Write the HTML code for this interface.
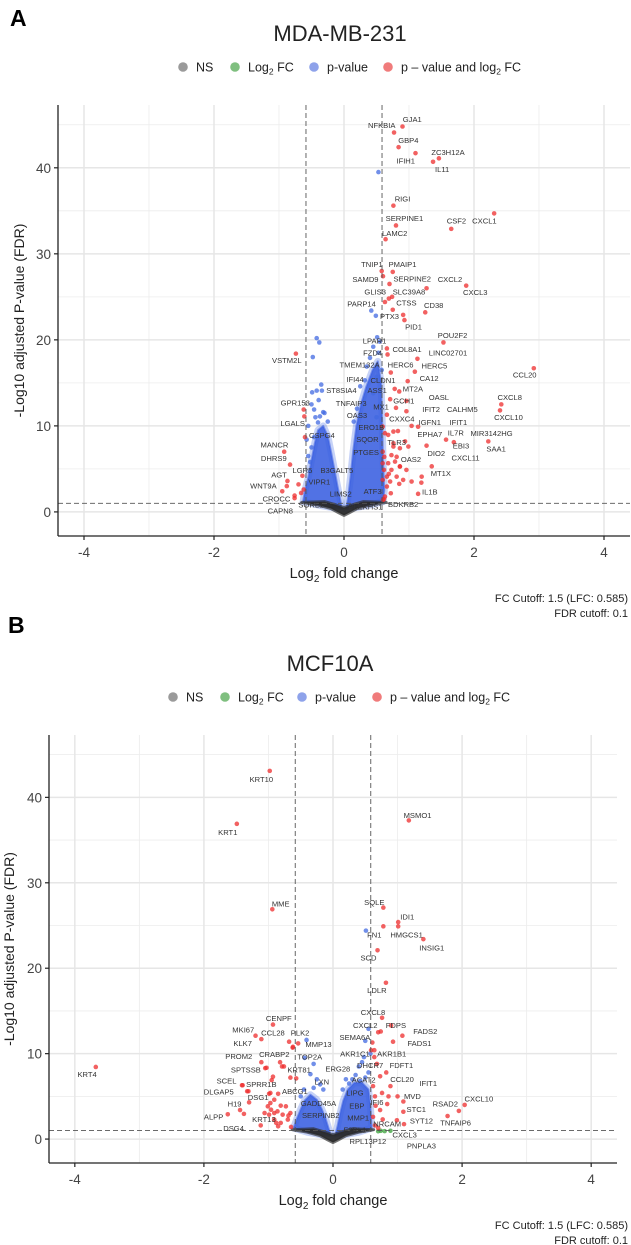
<!DOCTYPE html>
<html><head><meta charset="utf-8"><title>Volcano plots</title>
<style>
html,body{margin:0;padding:0;background:#fff;}
svg{display:block;font-family:"Liberation Sans",Arial,sans-serif;}
</style></head>
<body>
<svg id="fig" width="631" height="1245" viewBox="0 0 631 1245" xmlns="http://www.w3.org/2000/svg"></svg>
<script>
// ---------- Panel A data (MDA-MB-231) ----------
const aRedX=[0.90,0.77,0.84,1.10,1.46,1.37,0.76,2.31,0.80,1.65,0.64,0.58,0.75,0.60,0.70,1.88,1.27,0.74,0.69,0.63,0.75,1.25,0.91,0.93,1.53,2.92,0.66,0.67,1.13,0.72,1.09,-0.74,0.98,0.78,0.85,0.96,0.71,0.96,0.80,2.42,2.40,0.66,1.14,1.04,0.83,1.57,1.69,2.22,1.27,1.35,1.19,1.14,0.86,-0.92,-0.83,-0.60,-0.62,-0.61,-0.87,-0.95,-0.76,-0.64,-0.76,0.60,0.595,0.68,0.76,0.595,0.73,0.81,0.68,0.73,0.615,0.66,0.595,0.71,0.81,0.91,0.96,0.99,0.86,0.94,0.76,0.63,1.04,0.85,0.66,0.72,0.63,0.615,1.195,0.76,0.62,0.595,0.69,0.86,0.785,-0.88,-0.70,-0.62,-0.66];
const aRedY=[44.8,44.1,42.4,41.7,41.1,40.7,35.6,34.7,33.3,32.9,31.7,28.0,27.9,27.4,26.5,26.3,26.0,25.0,24.8,24.4,23.5,23.2,22.9,22.3,19.7,16.7,19.0,18.3,17.8,16.2,16.3,18.4,15.2,14.3,14.0,12.9,13.1,11.7,12.1,12.5,11.8,11.3,9.9,10.0,9.4,8.4,8.1,8.2,7.7,5.3,3.4,2.1,5.3,7.0,5.5,8.7,11.9,11.1,3.6,2.4,1.9,4.2,1.6,1.4,9.92,8.95,7.6,7.0,6.6,6.4,5.66,4.88,4.88,4.1,3.72,3.53,4.1,3.72,4.88,7.6,7.4,8.2,9.34,9.15,3.53,3.26,2.95,2.17,1.78,1.47,4.1,7.98,6.4,5.66,4.42,5.27,5.85,3.0,3.2,2.6,2.2];
const aBlueX=[0.53,0.42,0.49,-0.42,-0.38,-0.48,-0.35,-0.49,-0.42,-0.34,-0.39,-0.46,-0.32,-0.37,-0.40,-0.55,-0.46,-0.575,-0.52,0.51,0.55,0.45,0.53,0.40,0.58,0.35,0.50,0.25,0.32,0.45,-0.50,-0.44,-0.30,-0.25,0.20,0.15,-0.55,-0.5,-0.52,0.56,0.5];
const aBlueY=[39.5,23.4,22.8,20.2,19.7,18.0,14.8,13.9,14.1,14.1,13.0,11.9,11.6,11.1,10.4,10.0,8.7,8.4,4.7,20.3,19.8,19.2,18.5,17.9,16.5,16.9,15.7,14.6,15.3,13.8,12.5,11.0,11.5,10.5,12.0,10.5,6.5,7.5,5.8,12.5,11.0];
const aGreenX=[];
const aGreenY=[];
const aLabelNames=["GJA1","NFKBIA","GBP4","ZC3H12A","IFIH1","IL11","RIGI","SERPINE1","CSF2","CXCL1","LAMC2","TNIP1","PMAIP1","SAMD9","SERPINE2","CXCL2","CXCL3","GLIS3","SLC39A8","PARP14","CTSS","CD38","PTX3","PID1","POU2F2","LPAR1","COL8A1","LINC02701","VSTM2L","FZD4","TMEM132A","HERC6","HERC5","CCL20","IFI44","CLDN1","CA12","ST8SIA4","ASS1","MT2A","OASL","CXCL8","GPR153","TNFAIP3","GCH1","MX1","IFIT2","CALHM5","CXCL10","OAS3","CXXC4","LGALS","IGFN1","IFIT1","ERO1B","EPHA7","IL7R","MIR3142HG","CSPG4","SQOR","TLR3","MANCR","EBI3","SAA1","PTGES","DIO2","CXCL11","DHRS9","OAS2","LGR5","B3GALT5","MT1X","AGT","VIPR1","WNT9A","ATF3","IL1B","LIMS2","CROCC","SORL1","PLEKHS1","BDKRB2","CAPN8"];
const aLabelX=[1.05,0.58,0.99,1.60,0.95,1.51,0.90,0.93,1.73,2.16,0.78,0.43,0.90,0.33,1.05,1.63,2.02,0.48,1.0,0.27,0.96,1.38,0.70,1.07,1.67,0.47,0.97,1.60,-0.88,0.44,0.24,0.87,1.39,2.78,0.17,0.60,1.31,-0.04,0.51,1.06,1.46,2.55,-0.75,0.11,0.92,0.57,1.34,1.82,2.53,0.20,0.89,-0.79,1.32,1.76,0.42,1.32,1.72,2.27,-0.34,0.36,0.81,-1.07,1.80,2.34,0.34,1.42,1.87,-1.08,1.03,-0.64,-0.11,1.49,-1.00,-0.38,-1.24,0.44,1.32,-0.05,-1.04,-0.51,0.33,0.91,-0.98];
const aLabelY=[45.6,44.9,43.2,41.8,40.8,39.8,36.4,34.1,33.8,33.8,32.4,28.8,28.8,27.0,27.1,27.0,25.5,25.6,25.6,24.2,24.3,24.0,22.7,21.5,20.5,19.9,18.9,18.5,17.6,18.5,17.1,17.1,17.0,15.9,15.4,15.3,15.5,14.1,14.1,14.3,13.3,13.3,12.7,12.6,12.9,12.2,11.9,11.9,11.0,11.2,10.8,10.3,10.4,10.4,9.8,9.0,9.2,9.1,8.9,8.4,8.1,7.8,7.7,7.3,6.9,6.8,6.3,6.2,6.1,4.8,4.8,4.5,4.3,3.5,3.0,2.4,2.3,2.1,1.5,0.8,0.6,0.9,0.1];
const aCloudLeft=[[-0.03,0.3],[-0.06,1.5],[-0.1,3],[-0.15,5],[-0.2,7],[-0.25,8.8],[-0.32,10],[-0.4,9.5],[-0.45,8],[-0.5,6],[-0.55,4],[-0.6,2.5],[-0.63,1.2],[-0.4,0.8]];
const aCloudRight=[[0.03,0.3],[0.06,1.5],[0.1,4],[0.14,7],[0.19,10],[0.26,12.5],[0.34,14.5],[0.44,16.5],[0.52,17.5],[0.57,15],[0.59,10],[0.6,6],[0.62,2.5],[0.6,1.2],[0.4,0.8]];
const aNS=[[-0.65,1.1],[-0.4,0.8],[-0.2,0.4],[-0.08,-0.1],[0,-0.4],[0.08,-0.1],[0.2,0.4],[0.4,0.8],[0.65,1.1],[0.3,1.2],[0.12,0.8],[0,0.5],[-0.12,0.8],[-0.3,1.2]];

// ---------- Panel B data (MCF10A) ----------
const bRedX=[-0.98,-1.49,-0.94,-0.93,-1.20,-1.11,-0.68,-0.62,-3.675,-1.11,-1.05,-0.79,-0.625,-0.54,-0.66,-0.57,-1.41,-1.33,-0.95,-0.85,-0.99,-0.82,-0.76,-1.03,-0.93,-1.40,-1.31,-0.97,-1.30,-1.44,-1.63,-1.38,-1.12,-1.01,-0.96,-0.91,-0.99,-0.86,-0.81,-0.73,-0.66,-0.70,-0.85,-0.81,-0.88,-0.65,-0.69,-0.91,-0.78,-1.06,-0.97,-0.91,1.175,0.78,1.01,1.01,0.78,1.40,0.69,0.82,0.76,0.70,0.74,0.90,1.075,0.93,0.61,0.59,0.64,0.64,0.825,0.73,0.89,0.86,0.76,1.0,0.84,1.09,1.09,0.99,1.1,2.04,1.95,1.775,0.65,0.66,0.73,0.62,0.77,0.65,0.70,0.62,0.68];
const bRedY=[43.1,36.9,26.9,13.4,12.1,11.7,11.4,10.8,8.44,9.0,8.3,8.5,10.7,11.2,7.2,7.1,6.3,5.6,6.9,5.3,5.3,9.0,8.5,8.35,7.3,6.3,5.6,5.4,4.3,3.4,2.9,2.95,1.6,3.83,3.44,3.05,2.86,3.25,3.91,3.83,3.05,2.28,1.50,1.89,1.89,1.42,2.75,2.28,2.86,3.05,4.22,4.61,37.3,27.1,25.4,24.9,24.9,23.4,22.1,18.3,14.2,12.5,12.6,13.3,12.1,11.4,11.3,10.4,10.4,9.6,7.8,7.35,6.2,5.0,5.4,5.0,4.1,4.4,3.2,2.2,1.75,4.0,3.3,2.7,5.0,3.9,3.4,2.6,2.3,1.6,1.3,6.2,8.8];
const bBlueX=[0.51,-0.41,-0.44,-0.30,-0.35,-0.25,-0.20,-0.15,-0.30,0.55,0.50,0.45,0.58,0.40,0.35,0.30,0.48,0.25,0.20,0.15,0.55,-0.5,-0.45,0.5,0.42];
const bBlueY=[24.4,11.6,9.5,8.8,7.6,7.0,6.4,5.8,6.0,12.9,11.5,9.0,10.0,8.5,7.5,7.0,9.6,6.5,7.0,5.8,7.8,5.0,5.8,7.2,6.8];
const bGreenX=[0.74,0.80,0.89,0.70];
const bGreenY=[0.97,0.93,0.97,0.92];
const bLabelNames=["KRT10","KRT1","MME","CENPF","MKI67","CCL28","PLK2","KLK7","MMP13","PROM2","CRABP2","TOP2A","SPTSSB","KRT81","LXN","SCEL","SPRR1B","DLGAP5","ABCG1","DSG1","GADD45A","H19","ALPP","SERPINB2","KRT13","MMP1","DSG4","KRT4","MSMO1","SQLE","IDI1","FN1","HMGCS1","INSIG1","SCD","LDLR","CXCL8","CXCL2","FDPS","FADS2","SEMA6A","FADS1","AKR1C1","AKR1B1","ERG28","DHCR7","FDFT1","ACAT2","CCL20","IFIT1","LIPG","MVD","IFI6","CXCL10","EBP","RSAD2","STC1","SYT12","TNFAIP6","NRCAM","F2RL1","CXCL3","RPL13P12","PNPLA3"];
const bLabelX=[-1.11,-1.63,-0.81,-0.84,-1.39,-0.93,-0.51,-1.40,-0.225,-1.46,-0.91,-0.36,-1.35,-0.525,-0.175,-1.65,-1.11,-1.77,-0.59,-1.16,-0.225,-1.525,-1.85,-0.19,-1.07,0.39,-1.54,-3.81,1.31,0.64,1.15,0.64,1.14,1.53,0.55,0.68,0.62,0.5,0.975,1.43,0.34,1.34,0.34,0.91,0.075,0.575,1.06,0.475,1.07,1.475,0.34,1.23,0.68,2.26,0.37,1.74,1.29,1.37,1.9,0.84,0.34,1.11,0.54,1.37];
const bLabelY=[42.1,35.9,27.5,14.1,12.8,12.4,12.4,11.2,11.1,9.7,9.9,9.6,8.1,8.1,6.7,6.8,6.4,5.5,5.6,4.9,4.2,4.1,2.6,2.8,2.3,2.5,1.25,7.6,37.9,27.7,26.0,23.9,23.9,22.4,21.2,17.4,14.8,13.3,13.3,12.6,11.9,11.2,10.0,10.0,8.2,8.6,8.6,6.9,7.0,6.5,5.4,5.0,4.3,4.7,3.9,4.1,3.5,2.1,1.9,1.8,1.1,0.5,-0.3,-0.8];
const bCloudLeft=[[-0.03,0.3],[-0.07,1.3],[-0.12,2.5],[-0.18,3.6],[-0.25,4.6],[-0.35,5.2],[-0.44,4.5],[-0.5,3.5],[-0.56,2.4],[-0.61,1.3],[-0.4,0.8]];
const bCloudRight=[[0.03,0.3],[0.07,1.5],[0.11,3],[0.16,4.5],[0.23,5.8],[0.33,6.6],[0.45,6.6],[0.55,5.8],[0.58,3.8],[0.6,1.3],[0.4,0.8]];
const bNS=[[-0.63,1.1],[-0.4,0.8],[-0.2,0.4],[-0.08,-0.1],[0,-0.4],[0.08,-0.1],[0.2,0.4],[0.4,0.8],[0.63,1.1],[0.3,1.2],[0.12,0.8],[0,0.5],[-0.12,0.8],[-0.3,1.2]];

// ---------- axis ticks ----------
const xTicks=[-4,-2,0,2,4];
const xMinor=[-3,-1,1,3];
const yTicks=[0,10,20,30,40];
const yMinor=[5,15,25,35,45];
const xDomain=[-4.4,4.4];
const yDomain=[-2.8,47.3];
const fcCut=0.585;
const pCut=1;

const NS='http://www.w3.org/2000/svg';
const svg=document.getElementById('fig');
function mk(tag,attrs,parent,text){
  const e=document.createElementNS(NS,tag);
  for(const k in attrs)e.setAttribute(k,attrs[k]);
  if(text!==undefined)e.textContent=text;
  (parent||svg).appendChild(e);return e;
}

function panel(cfg){
  const g=mk('g',{});
  
  
  const sx=v=>cfg.L+(v-xDomain[0])/(xDomain[1]-xDomain[0])*(cfg.R-cfg.L);
  const sy=v=>cfg.B-(v-yDomain[0])/(yDomain[1]-yDomain[0])*(cfg.B-cfg.T);
  const letter=mk('text',{x:cfg.letterX,y:cfg.letterY,'font-size':23,'font-weight':'bold',fill:'#000'},g,cfg.letter);
  
  
  const title=mk('text',{x:cfg.titleX,y:cfg.titleY,'font-size':22,'text-anchor':'middle',fill:'#222'},g,cfg.title);
  
  
  const leg=mk('g',{},g);
  
  
  const legItems=[['#9a9a9a','NS',cfg.legX[0]],['#7fbf7f','Log',cfg.legX[1]],['#8ea2ea','p-value',cfg.legX[2]],['#f07b7b','p \u2013 value and log',cfg.legX[3]]];
  legItems.forEach((it,i)=>{
    const ent=mk('g',{},leg);
    
    
    mk('circle',{cx:it[2],cy:cfg.legY,r:4.8,fill:it[0]},ent);
    const t=mk('text',{x:it[2]+13,y:cfg.legY+4.5,'font-size':12.5,fill:'#222'},ent,it[1]);
    if(i===1||i===3){
      mk('tspan',{'font-size':8.5,dy:3},t,'2');
      mk('tspan',{dy:-3},t,' FC');
    }
  });
  const grid=mk('g',{},g);
  
  
  xMinor.forEach(v=>mk('line',{x1:sx(v),x2:sx(v),y1:cfg.T,y2:cfg.B,stroke:'#ececec','stroke-width':0.8},grid));
  yMinor.forEach(v=>mk('line',{x1:cfg.L,x2:cfg.R,y1:sy(v),y2:sy(v),stroke:'#ececec','stroke-width':0.8},grid));
  xTicks.forEach(v=>mk('line',{x1:sx(v),x2:sx(v),y1:cfg.T,y2:cfg.B,stroke:'#e6e6e6','stroke-width':1.5},grid));
  yTicks.forEach(v=>mk('line',{x1:cfg.L,x2:cfg.R,y1:sy(v),y2:sy(v),stroke:'#e6e6e6','stroke-width':1.5},grid));
  const poly=(pts,fill,op,sw,name)=>{
    const p=mk('polygon',{points:pts.map(q=>sx(q[0]).toFixed(1)+','+sy(q[1]).toFixed(1)).join(' '),fill:fill,'fill-opacity':op,stroke:fill,'stroke-opacity':op*0.7,'stroke-width':sw,'stroke-linejoin':'round'},g);
    
    
  };
  poly(cfg.cloudL,'#4a6ee6',0.45,7,'pvalue-cloud-left-halo');
  poly(cfg.cloudR,'#4a6ee6',0.45,7,'pvalue-cloud-right-halo');
  poly(cfg.cloudL,'#3a5fe0',0.8,2,'pvalue-cloud-left');
  poly(cfg.cloudR,'#3a5fe0',0.8,2,'pvalue-cloud-right');
  poly(cfg.ns,'#2b2b2b',0.95,3,'ns-cloud');
  const pts=(xs,ys,col,name)=>{
    const pg=mk('g',{},g);
    
    
    for(let i=0;i<xs.length;i++){
      const c=mk('circle',{cx:sx(xs[i]),cy:sy(ys[i]),r:2.3,fill:col,'fill-opacity':0.75},pg);
      
      
    }
  };
  pts(cfg.blueX,cfg.blueY,'#4169e1','pvalue-points');
  pts(cfg.greenX,cfg.greenY,'#3aa03a','log2fc-points');
  pts(cfg.redX,cfg.redY,'#ee2c2c','significant-points');
  [-fcCut,fcCut].forEach(v=>{
    const l=mk('line',{x1:sx(v),x2:sx(v),y1:cfg.T,y2:cfg.B,stroke:'#555','stroke-width':0.9,'stroke-dasharray':'5,3'},g);
    
    
  });
  const hl=mk('line',{x1:cfg.L,x2:cfg.R,y1:sy(pCut),y2:sy(pCut),stroke:'#555','stroke-width':0.9,'stroke-dasharray':'5,3'},g);
  
  
  const lg=mk('g',{},g);
  
  
  for(let i=0;i<cfg.labNames.length;i++){
    const t=mk('text',{x:sx(cfg.labX[i]),y:sy(cfg.labY[i])+2.6,'font-size':7.6,'text-anchor':'middle',fill:'#333'},lg,cfg.labNames[i]);
    
    
  }
  const ax=mk('g',{},g);
  
  
  mk('line',{x1:cfg.L,x2:cfg.R,y1:cfg.B,y2:cfg.B,stroke:'#222','stroke-width':1.3},ax);
  xTicks.forEach(v=>{
    mk('line',{x1:sx(v),x2:sx(v),y1:cfg.B,y2:cfg.B+4,stroke:'#222','stroke-width':1.2},ax);
    const t=mk('text',{x:sx(v),y:cfg.B+21,'font-size':13.5,'text-anchor':'middle',fill:'#444'},ax,String(v));
    
    
  });
  const ay=mk('g',{},g);
  
  
  mk('line',{x1:cfg.L,x2:cfg.L,y1:cfg.T,y2:cfg.B,stroke:'#222','stroke-width':1.3},ay);
  yTicks.forEach(v=>{
    mk('line',{x1:cfg.L-4,x2:cfg.L,y1:sy(v),y2:sy(v),stroke:'#222','stroke-width':1.2},ay);
    const t=mk('text',{x:cfg.L-7,y:sy(v)+5,'font-size':13.5,'text-anchor':'end',fill:'#444'},ay,String(v));
    
    
  });
  const xt=mk('text',{x:(sx(0)),y:cfg.B+42,'font-size':14.5,'text-anchor':'middle',fill:'#222'},g,'Log');
  
  
  mk('tspan',{'font-size':10,dy:4},xt,'2');
  mk('tspan',{dy:-4},xt,' fold change');
  const ymid=(cfg.T+cfg.B)/2;
  const yt=mk('text',{x:cfg.yTitleX,y:ymid,'font-size':14,'text-anchor':'middle',fill:'#222',transform:'rotate(-90 '+cfg.yTitleX+' '+ymid+')'},g,'-Log10 adjusted P-value (FDR)');
  
  
  const c1=mk('text',{x:628,y:cfg.B+66,'font-size':11,'text-anchor':'end',fill:'#222'},g,'FC Cutoff: 1.5 (LFC: 0.585)');
  
  
  const c2=mk('text',{x:628,y:cfg.B+81,'font-size':11,'text-anchor':'end',fill:'#222'},g,'FDR cutoff: 0.1');
  
  
}

panel({id:'mda-mb-231',letter:'A',letterX:10,letterY:26,title:'MDA-MB-231',titleX:340,titleY:41,
  legX:[183,235,314,388],legY:67,L:58,R:630,T:105,B:536,yTitleX:24,
  redX:aRedX,redY:aRedY,blueX:aBlueX,blueY:aBlueY,greenX:aGreenX,greenY:aGreenY,
  labNames:aLabelNames,labX:aLabelX,labY:aLabelY,cloudL:aCloudLeft,cloudR:aCloudRight,ns:aNS});
panel({id:'mcf10a',letter:'B',letterX:8,letterY:633,title:'MCF10A',titleX:330,titleY:671,
  legX:[173,225,302,377],legY:697,L:49,R:617,T:735,B:1163,yTitleX:14,
  redX:bRedX,redY:bRedY,blueX:bBlueX,blueY:bBlueY,greenX:bGreenX,greenY:bGreenY,
  labNames:bLabelNames,labX:bLabelX,labY:bLabelY,cloudL:bCloudLeft,cloudR:bCloudRight,ns:bNS});
</script>
</body></html>
